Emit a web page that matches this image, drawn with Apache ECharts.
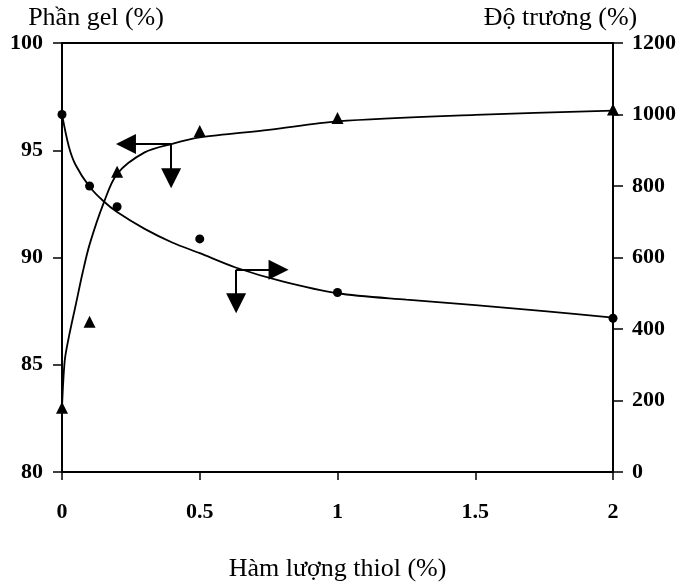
<!DOCTYPE html>
<html>
<head>
<meta charset="utf-8">
<script src="https://cdn.jsdelivr.net/npm/echarts@6/dist/echarts.min.js"></script>
<style>
  html, body { margin: 0; padding: 0; background: #fff; }
  #chart { width: 682px; height: 587px; }
</style>
</head>
<body>
<div id="chart"></div>
<script>
// measured points
var thiol = [0, 0.1, 0.2, 0.5, 1, 2];
var gelFraction = [83.0, 87.0, 94.0, 95.9, 96.5, 96.9];     // Phần gel (%), left axis
var swelling = [1000, 800, 742, 652, 502, 430];             // Độ trương (%), right axis

// fitted curves
var gelFitX = [0, 0.01, 0.025, 0.05, 0.075, 0.1, 0.15, 0.2, 0.3, 0.4, 0.5, 0.75, 1, 1.5, 2];
var gelFitY = [83.0, 85.2, 86.3, 87.8, 89.3, 90.6, 92.5, 93.9, 94.9, 95.3, 95.6, 95.95, 96.35, 96.65, 96.85];
var swellFitX = [0, 0.025, 0.05, 0.1, 0.15, 0.2, 0.3, 0.4, 0.5, 0.63, 0.8, 1, 1.25, 1.5, 1.75, 2];
var swellFitY = [1000, 910, 858, 798, 758, 727, 680, 642, 612, 572, 533, 500, 482, 467, 450, 432];

// axis ticks
var xTicks = [0, 0.5, 1, 1.5, 2];
var gelTicks = [80, 85, 90, 95, 100];
var swellTicks = [0, 200, 400, 600, 800, 1000, 1200];

// arrows telling which axis each curve belongs to: [from, to]
var gelArrows = [
  [[0.396, 95.29], [0.232, 95.29]],
  [[0.396, 95.29], [0.396, 93.7]]
];
var swellArrows = [
  [[0.632, 566], [0.786, 566]],
  [[0.632, 566], [0.632, 472]]
];

function pairs(xs, ys) {
  var res = [];
  for (var i = 0; i < xs.length; i++) res.push([xs[i], ys[i]]);
  return res;
}
function arrowData(list) {
  return list.map(function (a) {
    return [{ coord: a[0] }, { coord: a[1] }];
  });
}
function plain(v) { return String(v); }   // no thousands separator

var serif = 'Liberation Serif';
var tickLabel = { color: '#000', fontFamily: serif, fontWeight: 'bold', fontSize: 22, formatter: plain };
var axisName = { color: '#000', fontFamily: serif, fontSize: 26 };

var myChart = echarts.init(document.getElementById('chart'));

myChart.setOption({
  animation: false,
  backgroundColor: '#fff',
  grid: {
    left: 62, right: 69, top: 43, bottom: 114,
    show: true, borderColor: '#000', borderWidth: 2
  },
  xAxis: {
    type: 'value',
    min: xTicks[0], max: xTicks[xTicks.length - 1], interval: 0.5,
    name: 'Hàm lượng thiol (%)',
    nameLocation: 'middle', nameGap: 84,
    nameTextStyle: axisName,
    axisLine: { lineStyle: { color: '#000', width: 2 } },
    axisTick: { length: 8, lineStyle: { color: '#000', width: 1.5 } },
    axisLabel: Object.assign({ margin: 29 }, tickLabel),
    splitLine: { show: false }
  },
  yAxis: [
    {
      type: 'value',
      min: gelTicks[0], max: gelTicks[gelTicks.length - 1], interval: 5,
      name: 'Phần gel (%)',
      nameLocation: 'end', nameGap: 12,
      nameTextStyle: Object.assign({ padding: [0, 0, 0, 68] }, axisName),
      axisLine: { show: true, lineStyle: { color: '#000', width: 2 } },
      axisTick: { show: true, length: 9, lineStyle: { color: '#000', width: 1.5 } },
      axisLabel: Object.assign({ margin: 19 }, tickLabel),
      splitLine: { show: false }
    },
    {
      type: 'value',
      position: 'right',
      min: swellTicks[0], max: swellTicks[swellTicks.length - 1], interval: 200,
      name: 'Độ trương (%)',
      nameLocation: 'end', nameGap: 12,
      nameTextStyle: Object.assign({ padding: [0, 105, 0, 0] }, axisName),
      axisLine: { show: true, lineStyle: { color: '#000', width: 2 } },
      axisTick: { show: true, length: 10, lineStyle: { color: '#000', width: 1.5 } },
      axisLabel: Object.assign({ margin: 19 }, tickLabel),
      splitLine: { show: false }
    }
  ],
  series: [
    {
      name: 'gel fit',
      type: 'line',
      yAxisIndex: 0,
      smooth: 0.3,
      showSymbol: false,
      lineStyle: { color: '#000', width: 1.8 },
      data: pairs(gelFitX, gelFitY),
      markLine: {
        silent: true,
        symbol: ['none', 'triangle'],
        symbolSize: 20,
        label: { show: false },
        lineStyle: { color: '#000', width: 2, type: 'solid' },
        itemStyle: { color: '#000' },
        data: arrowData(gelArrows)
      },
      z: 2
    },
    {
      name: 'swelling fit',
      type: 'line',
      yAxisIndex: 1,
      smooth: 0.3,
      showSymbol: false,
      lineStyle: { color: '#000', width: 1.8 },
      data: pairs(swellFitX, swellFitY),
      markLine: {
        silent: true,
        symbol: ['none', 'triangle'],
        symbolSize: 20,
        label: { show: false },
        lineStyle: { color: '#000', width: 2, type: 'solid' },
        itemStyle: { color: '#000' },
        data: arrowData(swellArrows)
      },
      z: 2
    },
    {
      name: 'Phần gel',
      type: 'scatter',
      yAxisIndex: 0,
      symbol: 'triangle',
      symbolSize: 12,
      itemStyle: { color: '#000', opacity: 1 },
      data: pairs(thiol, gelFraction),
      z: 3
    },
    {
      name: 'Độ trương',
      type: 'scatter',
      yAxisIndex: 1,
      symbol: 'circle',
      symbolSize: 9,
      itemStyle: { color: '#000', opacity: 1 },
      data: pairs(thiol, swelling),
      z: 3
    }
  ]
});
</script>
</body>
</html>
